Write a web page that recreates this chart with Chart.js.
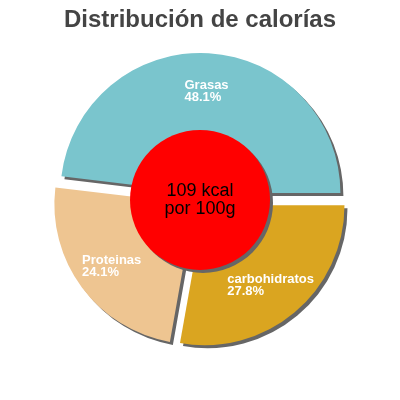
<!DOCTYPE html>
<html>
<head>
<meta charset="utf-8">
<script src="https://cdn.jsdelivr.net/npm/chart.js@4/dist/chart.umd.min.js"></script>
<style>
  html, body { margin: 0; padding: 0; background: #fff; }
  #wrap { width: 400px; height: 400px; }
</style>
</head>
<body>
<div id="wrap"><canvas id="pie"></canvas></div>
<script>
const labels = ['Grasas', 'carbohidratos', 'Proteinas'];
const shares = [48.1, 27.8, 24.1];
const colors = ['#7AC5CD', '#DAA520', '#EEC591'];
const centerLines = ['109 kcal', 'por 100g'];

const EXPLODE = 7;

// exploded slices with a hard drop shadow (draws the library's own arc elements)
const explodePlugin = {
    id: 'explode',
    beforeDatasetDraw(chart, args) {
        const c = chart.ctx;
        args.meta.data.forEach(arc => {
            const mid = (arc.startAngle + arc.endAngle) / 2;
            c.save();
            c.translate(Math.cos(mid) * EXPLODE, Math.sin(mid) * EXPLODE);
            c.shadowColor = '#666';
            c.shadowOffsetX = 3;
            c.shadowOffsetY = 3;
            c.shadowBlur = 0;
            arc.draw(c);
            c.restore();
        });
        return false;
    }
};

// red disc in the middle + slice labels
const centerPlugin = {
    id: 'center',
    afterDatasetsDraw(chart) {
        const c = chart.ctx;
        const arcs = chart.getDatasetMeta(0).data;
        const a0 = arcs[0];
        const cx = a0.x, cy = a0.y;
        const R = a0.outerRadius;

        c.save();
        c.shadowColor = '#666';
        c.shadowOffsetX = 3;
        c.shadowOffsetY = 3;
        c.beginPath();
        c.arc(cx, cy, R / 2, 0, Math.PI * 2);
        c.fillStyle = '#FF0000';
        c.fill();
        c.restore();

        c.save();
        c.fillStyle = '#000';
        c.font = '18px "Liberation Sans", Arial, sans-serif';
        c.textAlign = 'center';
        c.textBaseline = 'alphabetic';
        c.fillText(centerLines[0], cx, cy - 4);
        c.fillText(centerLines[1], cx, cy + 14.5);
        c.restore();

        c.save();
        c.fillStyle = '#fff';
        c.font = 'bold 13px "Liberation Sans", Arial, sans-serif';
        c.textAlign = 'left';
        c.textBaseline = 'alphabetic';
        arcs.forEach((arc, i) => {
            const mid = (arc.startAngle + arc.endAngle) / 2;
            const d = EXPLODE + arc.outerRadius * 0.735;
            const lx = arc.x + Math.cos(mid) * d;
            const ly = arc.y + Math.sin(mid) * d;
            const l1 = labels[i];
            const l2 = shares[i].toFixed(1) + '%';
            const w = Math.max(c.measureText(l1).width, c.measureText(l2).width);
            c.fillText(l1, lx - w / 2, ly - 1.5);
            c.fillText(l2, lx - w / 2, ly + 10.5);
        });
        c.restore();
    }
};

new Chart(document.getElementById('pie'), {
    type: 'pie',
    data: {
        labels: labels,
        datasets: [{
            data: shares,
            backgroundColor: colors,
            borderWidth: 0
        }]
    },
    options: {
        responsive: true,
        maintainAspectRatio: false,
        animation: false,
        events: [],
        rotation: 90 - shares[0] * 3.6,
        radius: 140,
        layout: { padding: { bottom: 35 } },
        plugins: {
            legend: { display: false },
            tooltip: { enabled: false },
            title: {
                display: true,
                text: 'Distribución de calorías',
                color: '#444',
                font: { family: '"Liberation Sans", Arial, sans-serif', size: 24, weight: 'bold', lineHeight: 1.2 },
                padding: { top: 6, bottom: 0 }
            }
        }
    },
    plugins: [explodePlugin, centerPlugin]
});
</script>
</body>
</html>
